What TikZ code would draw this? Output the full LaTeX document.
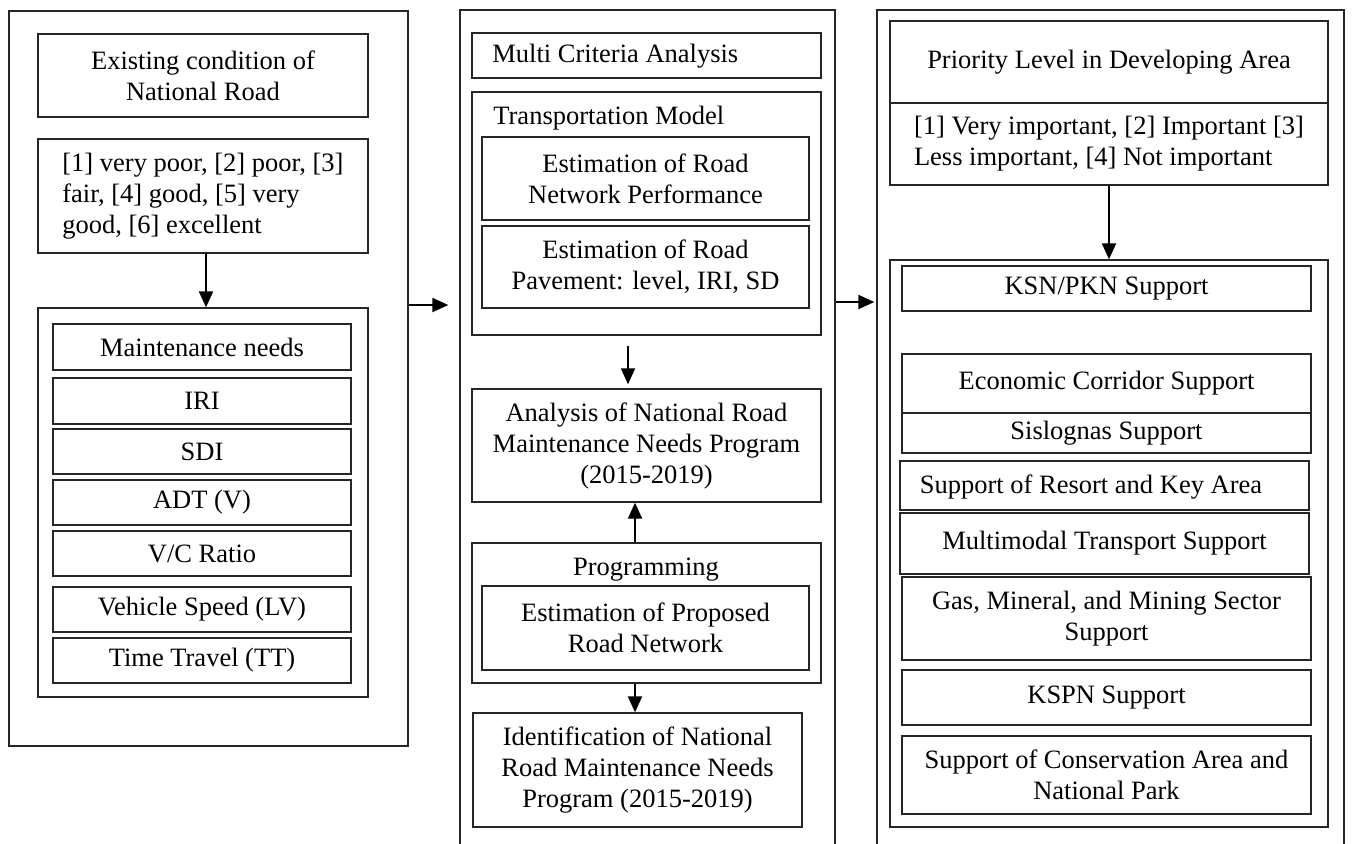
\documentclass[tikz,border=0pt]{standalone}
\usepackage{fontspec}
\setmainfont{Liberation Serif}
\usetikzlibrary{arrows.meta}
\tikzset{
  box/.style={draw=black!85, line width=0.65pt, inner sep=0pt, align=center, font=\fontsize{13.25}{15.5}\selectfont},
  txt/.style={inner sep=0pt, align=left, font=\fontsize{13.25}{15.5}\selectfont},
  arr/.style={line width=1pt, -{Triangle[length=8pt,width=7pt]}},
}
\newcommand{\bx}[7][]{\node[box,minimum width={(#4-#2)*0.5pt},minimum height={(#5-#3)*0.5pt},#1] (#6) at ({(#2+#4)/2},{(#3+#5)/2}) {#7};}
\begin{document}
\begin{tikzpicture}[x=0.5pt,y=-0.5pt]
\useasboundingbox (0,0) rectangle (1352,843);
\clip (0,0) rectangle (1352,843);
% ---------- left column
\bx{9}{11}{408}{746}{L}{}
\bx{38}{34}{368}{117}{ex}{Existing condition of\\National Road}
\bx[align=left]{38}{139}{368}{253}{cond}{[1] very poor, [2] poor, [3]\\fair, [4] good, [5] very\\good, [6] excellent}
\bx{38}{308}{368}{697}{mgrp}{}
\bx{53}{324}{351}{370}{mn}{Maintenance needs}
\bx{53}{378}{351}{424}{iri}{IRI}
\bx{53}{429}{351}{474}{sdi}{SDI}
\bx{53}{480}{351}{525}{adt}{ADT (V)}
\bx{53}{531}{351}{576}{vc}{V/C Ratio}
\bx{53}{587}{351}{632}{vs}{Vehicle Speed (LV)}
\bx{53}{638}{351}{683}{tt}{Time Travel (TT)}
\coordinate (xl) at (206,0);
\draw[arr] (cond.south -| xl) -- (mgrp.north -| xl);
% ---------- middle column
\bx{460}{10}{835}{900}{M}{}
\bx{472}{33}{821}{78}{mca}{}
\node[txt,anchor=west] (mcat) at (492,56) {Multi Criteria Analysis};
\bx{472}{92}{821}{335}{tm}{}
\node[txt,anchor=west] (tmt) at (493,118) {Transportation Model};
\bx{482}{137}{809}{220}{enp}{Estimation of Road\\Network Performance}
\bx{482}{226}{809}{308}{epv}{Estimation of Road\\Pavement: level, IRI, SD}
\bx{472}{389}{821}{502}{ana}{Analysis of National Road\\Maintenance Needs Program\\(2015-2019)}
\bx{472}{543}{821}{683}{prg}{}
\node[txt] (prgt) at (646,570) {Programming};
\bx{482}{586}{809}{670}{epr}{Estimation of Proposed\\Road Network}
\bx{473}{713}{802}{827}{idn}{Identification of National\\Road Maintenance Needs\\Program (2015-2019)}
\coordinate (xm1) at (628,0);
\coordinate (xm2) at (635,0);
\draw[arr, shorten <=5pt, shorten >=2pt] (tm.south -| xm1) -- (ana.north -| xm1);
\draw[arr] (prg.north -| xm2) -- (ana.south -| xm2);
\draw[arr] (prg.south -| xm2) -- (idn.north -| xm2);
% ---------- right column
\bx{877}{10}{1344}{900}{R}{}
\bx{890}{21}{1328}{103}{pri}{Priority Level in Developing Area}
\bx[align=left]{890}{103}{1328}{185}{pril}{[1] Very important, [2] Important [3]\\Less important, [4] Not important}
\bx{890}{260}{1328}{827}{sgrp}{}
\bx{902}{266}{1311}{311}{ksn}{KSN/PKN Support}
\bx{902}{354}{1311}{413}{eco}{Economic Corridor Support}
\bx{902}{413}{1311}{453}{sis}{Sislognas Support}
\bx{900}{461}{1309}{510}{res}{}
\node[txt] (rest) at (1091,487) {Support of Resort and Key Area};
\bx{900}{513}{1309}{574}{mmt}{Multimodal Transport Support}
\bx{902}{577}{1311}{660}{gas}{Gas, Mineral, and Mining Sector\\Support}
\bx{902}{670}{1311}{725}{kspn}{KSPN Support}
\bx{902}{736}{1311}{814}{cons}{Support of Conservation Area and\\National Park}
\draw[arr] (pril.south) -- (sgrp.north);
% ---------- column connectors
\coordinate (ya) at (0,305);
\coordinate (yb) at (0,302);
\draw[arr, shorten >=5.5pt] (L.east |- ya) -- (M.west |- ya);
\draw[arr, shorten >=1pt] (M.east |- yb) -- (R.west |- yb);
\end{tikzpicture}
\end{document}
